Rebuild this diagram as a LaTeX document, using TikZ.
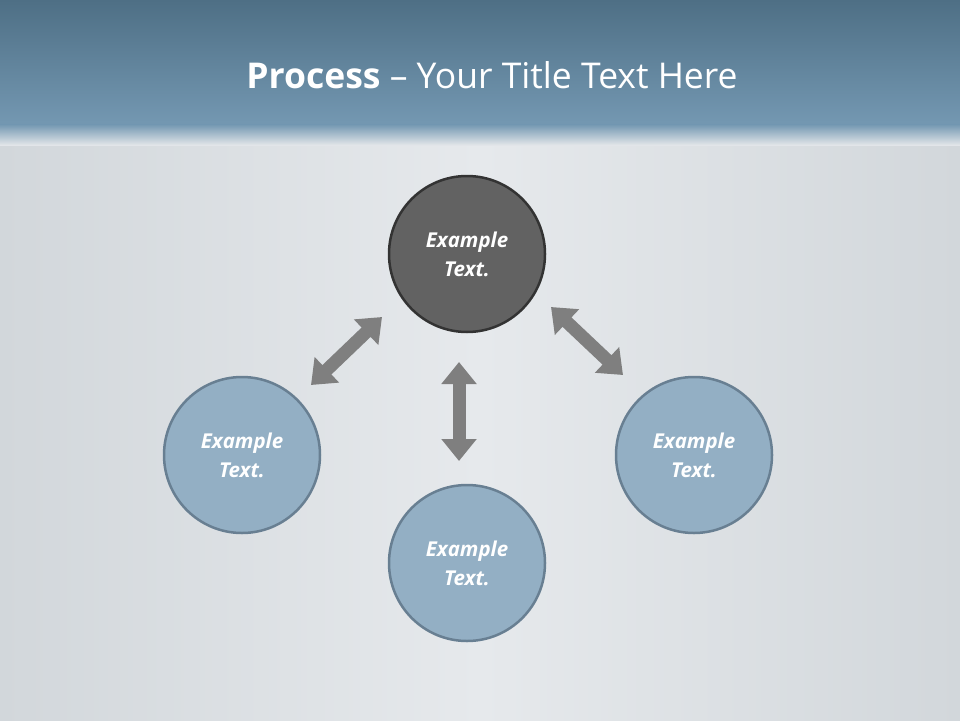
\documentclass[tikz,border=0pt]{standalone}
\usepackage{fontspec}
\setmainfont{Open Sans}
\usetikzlibrary{arrows.meta}
\definecolor{bandtop}{HTML}{4E6F85}
\definecolor{bandbot}{HTML}{7498B2}
\definecolor{bgA}{HTML}{E6E9EC}
\definecolor{bgB}{HTML}{D2D7DB}
\definecolor{bluec}{HTML}{93AFC4}
\definecolor{blueb}{HTML}{687F92}
\definecolor{darkc}{HTML}{626262}
\definecolor{arr}{HTML}{7F7F7F}
\tikzset{
 circ/.style={circle,minimum size=156pt,line width=2.5pt,text=white,font=\bfseries\itshape\fontsize{20.5}{29}\selectfont,align=center},
 bluecirc/.style={circ,fill=bluec,draw=blueb},
 darkcirc/.style={circ,fill=darkc,draw=black!80},
 dbl/.style={draw=arr,line width=13pt,{Triangle[width=34pt,length=22pt]}-{Triangle[width=34pt,length=22pt]}},
}
\begin{document}
\begin{tikzpicture}[x=1pt,y=-1pt]
\useasboundingbox (0,0) rectangle (960,720);
\shade[left color=bgB,right color=bgB,middle color=bgA] (0,140) rectangle (960,720);
\shade[top color=bandtop,bottom color=bandbot] (0,0) rectangle (960,125);
\shade[top color=bandbot,bottom color=bgA!80!bgB] (0,124.5) rectangle (960,145);
\node[text=white,font=\fontsize{35.5}{40}\selectfont] (title) at (492,75) {\textbf{Process} -- Your Title Text Here};
\node[darkcirc] (top) at (467,254) {Example\\Text.};
\node[bluecirc] (left) at (242,455) {Example\\Text.};
\node[bluecirc] (right) at (694,455) {Example\\Text.};
\node[bluecirc] (bot) at (467,563) {Example\\Text.};
\coordinate (a1) at (311,385); \coordinate (a2) at (382,317);
\coordinate (b1) at (551,307); \coordinate (b2) at (623,375);
\coordinate (c1) at (459,362); \coordinate (c2) at (459,461);
\draw[dbl] (a1) -- (a2);
\draw[dbl] (b1) -- (b2);
\draw[dbl] (c1) -- (c2);
\end{tikzpicture}
\end{document}
